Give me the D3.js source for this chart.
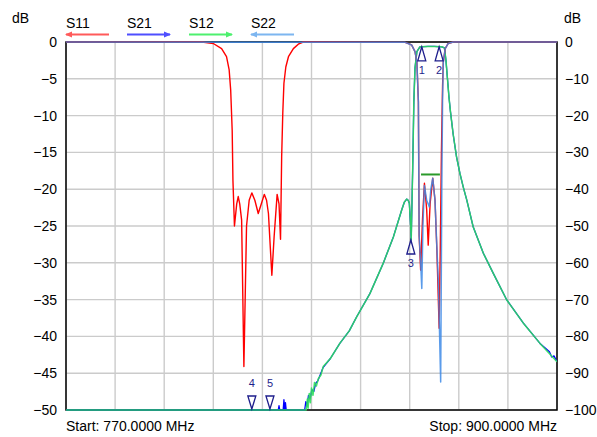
<!DOCTYPE html>
<html><head><meta charset="utf-8">
<script src="https://cdn.jsdelivr.net/npm/d3@7"></script>
<style>
body{margin:0;background:#fff}
svg{display:block}
text{font-family:"Liberation Sans",Arial,Helvetica,sans-serif}
</style>
</head><body>
<svg id="c" width="597" height="437"></svg>
<script>
// ---------- data ----------
const freqDomain = [770, 900];
const freqTicks = [770, 783, 796, 809, 822, 835, 848, 861, 874, 887, 900];
const leftTicks = [0, -5, -10, -15, -20, -25, -30, -35, -40, -45, -50];
const rightTicks = [0, -10, -20, -30, -40, -50, -60, -70, -80, -90, -100];
const seriesNames = ["S11", "S21", "S12", "S22"];

// S11 (left axis, dB)
const s11Freq = [770, 806, 809, 811.2, 812.5, 813.2, 813.6, 814.0, 814.2, 814.6, 815.2, 815.6, 816.0, 816.5, 817.1, 817.8, 818.5, 819.2, 820.0, 820.9, 821.7, 822.5, 823.1, 823.6, 824.5, 825.1, 825.9, 826.4, 826.8, 827.1, 827.4, 827.7, 828.2, 828.9, 830.2, 831.5, 832.8,
  859.8, 861.5, 862.4, 862.9, 863.3, 863.5, 863.9, 864.4, 864.9, 865.5, 865.9, 866.4, 867.1, 867.7, 868.2, 868.8, 869.1, 869.4, 869.7, 869.9, 870.4, 871.2, 872.5, 900];
const s11Db = [0, 0, -0.2, -0.9, -2.0, -3.8, -6.5, -12, -18.8, -25, -22, -21, -22, -24.2, -44.1, -25, -21.5, -20.5, -21.5, -23.3, -22, -20.7, -21.5, -23.3, -31.7, -26.5, -20.7, -22, -26.8, -15.6, -9.6, -5.6, -3.4, -2.0, -0.9, -0.3, 0,
  -0.05, -0.4, -1.3, -2.7, -8.1, -26.3, -31, -24, -19.2, -22.8, -27.6, -22, -18.5, -21.5, -28.3, -38.9, -28, -15, -6, -2.7, -0.9, -0.2, 0, 0];

// S22 (left axis, dB)
const s22Freq = [770, 859.8, 861.5, 862.4, 862.9, 863.3, 863.5, 863.9, 864.2, 864.5, 864.9, 865.5, 865.9, 866.2, 866.6, 867.1, 867.7, 868.2, 868.6, 869.2, 869.5, 869.7, 869.9, 870.4, 871.2, 872.5, 900];
const s22Db = [0, -0.05, -0.4, -1.3, -2.7, -8.1, -26.3, -30, -33.5, -25, -19.5, -21.5, -22, -22.4, -20, -18.5, -21.5, -28, -32.8, -46.2, -20, -8, -2.7, -0.9, -0.2, 0, 0];

// S12 (right axis, dB)
const s12Freq = [770, 833.4, 833.6, 833.9, 834.1, 834.4, 834.7, 835.0, 835.4, 835.8, 836.3, 836.8, 837.5, 838.1, 840.0, 842.5, 845.0, 847.0, 850.5, 854.0, 856.7, 858.9, 859.6, 860.2, 860.6, 860.9, 861.2, 861.4, 861.8, 862.1, 862.4, 862.9, 863.7, 865.8, 867.5, 869.5, 870.2, 870.6, 871.0, 871.4, 871.8, 872.5, 873.4, 874.3, 875.2, 876.1, 877.8, 880.5, 883.1, 886.7, 891.1, 895.5, 900];
const s12Db = [-100, -100, -100, -97, -99.5, -95.5, -98, -94, -96, -92.5, -93.5, -91.5, -90.5, -88.2, -86, -81.9, -78.5, -74.6, -68.3, -60.1, -52.9, -45.6, -43.5, -42.7, -43.0, -43.8, -49, -53.8, -34, -16.2, -7.1, -2.6, -1.3, -1.2, -1.2, -1.3, -1.6, -5, -10, -15, -19, -25, -31.2, -35.7, -39.5, -42.9, -50.2, -57.4, -62.8, -70.1, -76.4, -81.9, -86.9];

// S21 (right axis, dB)
const s21Freq = [770, 826.2, 826.4, 826.6, 827.5, 827.7, 827.9, 828.1, 828.3, 828.5, 833.2, 833.5, 833.8, 834.2, 834.6, 835.1, 835.6, 836.1, 836.7, 837.4, 838.1, 840.0, 842.5, 845.0, 847.0, 850.5, 854.0, 856.7, 858.9, 859.6, 860.2, 860.6, 860.9, 861.2, 861.4, 861.8, 862.1, 862.4, 862.9, 863.7, 865.8, 867.5, 869.5, 870.2, 870.6, 871.0, 871.4, 871.8, 872.5, 873.4, 874.3, 875.2, 876.1, 877.8, 880.5, 883.1, 886.7, 891.1, 895.5, 898.0, 898.6, 899.2, 900];
const s21Db = [-100, -100, -98.8, -100, -100, -97.2, -100, -98, -100, -100, -100, -97.7, -99, -96, -97, -94.5, -95, -92.8, -92, -90.2, -88.4, -86, -81.9, -78.5, -74.6, -68.3, -60.1, -52.9, -45.6, -43.5, -42.7, -43.0, -43.8, -49, -53.8, -34, -16.2, -7.1, -2.6, -1.3, -1.2, -1.2, -1.3, -1.6, -5, -10, -15, -19, -25, -31.2, -35.7, -39.5, -42.9, -50.2, -57.4, -62.8, -70.1, -76.4, -81.9, -84.2, -85.6, -85.3, -86.9];

// limit line (left axis)
const limitFreq = [864.0, 869.0];
const limitDb = [-18, -18];

// markers (right axis)
const markerIds = ["1", "2", "3", "4", "5"];
const markerFreq = [864.2, 868.8, 861.3, 819.2, 824.0];
const markerDb = [-1.3, -1.3, -53.8, -100, -100];
const markerDir = ["up", "up", "up", "down", "down"];

// ---------- drawing ----------
const svg = d3.select("#c");
const L = 66, R = 557, T = 42, B = 410;
const x = d3.scaleLinear().domain(freqDomain).range([L, R]);
const yL = d3.scaleLinear().domain([-50, 0]).range([B, T]);
const yR = d3.scaleLinear().domain([-100, 0]).range([B, T]);

const font = '"Liberation Sans",Arial,sans-serif';

// grid
const grid = svg.append("g").attr("stroke", "#cbcbcb").attr("stroke-width", 1.4);
grid.selectAll("line.v").data(freqTicks).join("line")
  .attr("x1", d => x(d)).attr("x2", d => x(d)).attr("y1", T).attr("y2", B);
grid.selectAll("line.h").data(leftTicks).join("line")
  .attr("x1", L).attr("x2", R).attr("y1", d => yL(d)).attr("y2", d => yL(d));

// frame
svg.append("rect").attr("x", L).attr("y", T).attr("width", R - L).attr("height", B - T)
  .attr("fill", "none").attr("stroke", "#000").attr("stroke-width", 1.5);

// axes (labels only)
const axL = d3.axisLeft(yL).tickValues(leftTicks).tickSize(0).tickPadding(9).tickFormat(d3.format("d"));
const gL = svg.append("g").attr("transform", `translate(${L},0)`).call(axL);
const axR = d3.axisRight(yR).tickValues(rightTicks).tickSize(0).tickPadding(8).tickFormat(d3.format("d"));
const gR = svg.append("g").attr("transform", `translate(${R},0)`).call(axR);
[gL, gR].forEach(g => {
  g.select(".domain").remove();
  g.selectAll("text").attr("font-size", 14).attr("font-family", font).attr("fill", "#000");
});

svg.append("text").attr("x", 12).attr("y", 23).attr("font-size", 14).text("dB");
svg.append("text").attr("x", 564).attr("y", 23).attr("font-size", 14).text("dB");

svg.append("text").attr("x", 66).attr("y", 431).attr("font-size", 14).text("Start: " + freqDomain[0].toFixed(4) + " MHz");
svg.append("text").attr("x", 557).attr("y", 431).attr("font-size", 14).attr("text-anchor", "end").text("Stop: " + freqDomain[1].toFixed(4) + " MHz");

// legend
const legendX = [66, 127, 189, 251];
const legendColors = ["#ff5a5a", "#4f4fff", "#4df06e", "#7db6f0"];
const legendDir = ["left", "right", "right", "left"];
seriesNames.forEach((n, i) => {
  svg.append("text").attr("x", legendX[i]).attr("y", 28).attr("font-size", 14).text(n);
  const x0 = legendX[i], x1 = legendX[i] + 43, yy = 34.5;
  svg.append("line").attr("x1", x0).attr("x2", x1).attr("y1", yy).attr("y2", yy)
    .attr("stroke", legendColors[i]).attr("stroke-width", 2);
  const p = legendDir[i] === "left"
    ? `M${x0 - 1},${yy} L${x0 + 6},${yy - 3} L${x0 + 6},${yy + 3} Z`
    : `M${x1 + 1},${yy} L${x1 - 6},${yy - 3} L${x1 - 6},${yy + 3} Z`;
  svg.append("path").attr("d", p).attr("fill", legendColors[i]);
});

// traces
svg.append("defs").append("clipPath").attr("id", "clip")
  .append("rect").attr("x", L).attr("y", T - 2).attr("width", R - L).attr("height", B - T + 3);
const plot = svg.append("g").attr("clip-path", "url(#clip)");

function trace(freqs, vals, yScale, color, w, op) {
  const pts = freqs.map((f, i) => [f, Math.max(vals[i], yScale.domain()[0])]);
  const line = d3.line().x(d => x(d[0])).y(d => yScale(d[1]));
  plot.append("path").datum(pts).attr("d", line).attr("fill", "none")
    .attr("stroke", color).attr("stroke-width", w).attr("stroke-opacity", op || 1)
    .attr("stroke-linejoin", "round");
}
trace(s21Freq, s21Db, yR, "#0000ff", 1.3);
trace(s12Freq, s12Db, yR, "#2fe05c", 1.5, 0.9);
trace(s11Freq, s11Db, yL, "#ff0000", 1.4);
trace(s22Freq, s22Db, yL, "#3d8ae6", 1.5, 0.85);

// limit line
svg.append("line").attr("x1", x(limitFreq[0])).attr("x2", x(limitFreq[1]))
  .attr("y1", yL(limitDb[0])).attr("y2", yL(limitDb[1]))
  .attr("stroke", "#2a9a2a").attr("stroke-width", 2);

// markers
const mk = svg.append("g");
markerIds.forEach((id, i) => {
  const mx = x(markerFreq[i]), my = yR(markerDb[i]);
  let p, ty;
  if (markerDir[i] === "up") {
    p = `M${mx},${my} L${mx - 4},${my + 14} L${mx + 4},${my + 14} Z`;
    ty = my + 27;
  } else {
    p = `M${mx},${my - 1} L${mx - 4},${my - 14} L${mx + 4},${my - 14} Z`;
    ty = my - 23;
  }
  mk.append("path").attr("d", p).attr("fill", "none").attr("stroke", "#1e1e8c").attr("stroke-width", 1.3);
  mk.append("text").attr("x", mx).attr("y", ty).attr("text-anchor", "middle")
    .attr("font-size", 11).attr("fill", "#1e1e8c").text(id);
});
</script>
</body></html>
